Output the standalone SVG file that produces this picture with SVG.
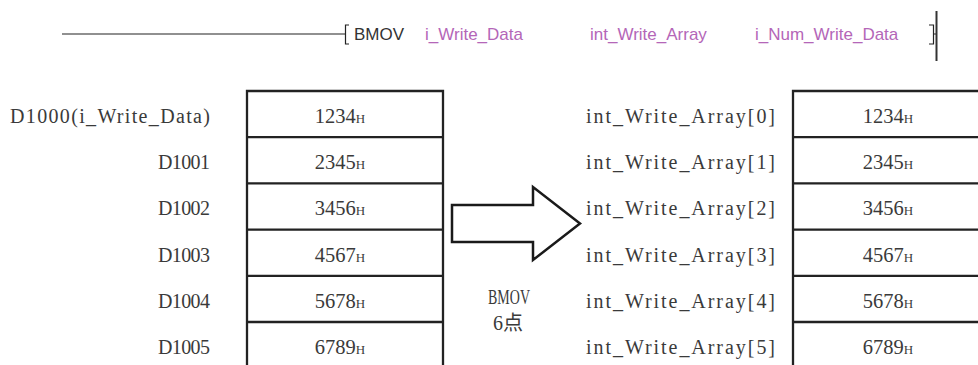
<svg xmlns="http://www.w3.org/2000/svg" width="978" height="365" viewBox="0 0 978 365">
<style>
.ladder{stroke:#222;stroke-width:1.2;fill:none}
.cmd{font-family:"Liberation Sans",Arial,sans-serif;font-size:17px;fill:#333}
.arg{font-family:"Liberation Sans",Arial,sans-serif;font-size:17px;fill:#b466b8}
.lbl{font-family:"Liberation Serif","Noto Sans CJK JP",serif;font-size:20px;fill:#3a3a3a}
.big{font-size:22px}
.val{font-family:"Liberation Serif",serif;font-size:20.5px;fill:#3a3a3a;text-anchor:middle}
.h{font-size:13px}
.cell{fill:none;stroke:#222;stroke-width:2.3}
.arrow{fill:#fff;stroke:#1a1a1a;stroke-width:2.5;stroke-linejoin:miter}
</style>
<rect width="978" height="365" fill="#fff"/>
<g id="ladder">
<line class="ladder" x1="62" y1="34" x2="345" y2="34"/>
<path class="ladder" d="M349,25 H345.5 V44 H349"/>
<text class="cmd" x="354" y="40">BMOV</text>
<text class="arg" x="425" y="40">i_Write_Data</text>
<text class="arg" x="590" y="40">int_Write_Array</text>
<text class="arg" x="755" y="40">i_Num_Write_Data</text>
<path class="ladder" d="M929,25 H933.5 V44 H929 M933.5,34 H936"/>
<line x1="936.5" y1="11" x2="936.5" y2="61" stroke="#333" stroke-width="2"/>
</g>
<g id="source-table">
<path class="cell" d="M247,365 V91 H443 V365 M247,137.2 H443 M247,183.4 H443 M247,229.6 H443 M247,275.8 H443 M247,322 H443"/>
<text class="val" x="340" y="123">1234<tspan class="h">H</tspan></text>
<text class="val" x="340" y="169.2">2345<tspan class="h">H</tspan></text>
<text class="val" x="340" y="215.4">3456<tspan class="h">H</tspan></text>
<text class="val" x="340" y="261.6">4567<tspan class="h">H</tspan></text>
<text class="val" x="340" y="307.8">5678<tspan class="h">H</tspan></text>
<text class="val" x="340" y="354">6789<tspan class="h">H</tspan></text>
</g>
<g id="source-labels" text-anchor="end">
<text class="lbl" x="210" y="123" textLength="200" lengthAdjust="spacing">D1000(i_Write_Data)</text>
<text class="lbl" x="210" y="169.2" textLength="52" lengthAdjust="spacing">D1001</text>
<text class="lbl" x="210" y="215.4" textLength="52" lengthAdjust="spacing">D1002</text>
<text class="lbl" x="210" y="261.6" textLength="52" lengthAdjust="spacing">D1003</text>
<text class="lbl" x="210" y="307.8" textLength="52" lengthAdjust="spacing">D1004</text>
<text class="lbl" x="210" y="354" textLength="52" lengthAdjust="spacing">D1005</text>
</g>
<g id="dest-table">
<path class="cell" d="M793,365 V91 H980 M793,137.2 H980 M793,183.4 H980 M793,229.6 H980 M793,275.8 H980 M793,322 H980"/>
<text class="val" x="888" y="123">1234<tspan class="h">H</tspan></text>
<text class="val" x="888" y="169.2">2345<tspan class="h">H</tspan></text>
<text class="val" x="888" y="215.4">3456<tspan class="h">H</tspan></text>
<text class="val" x="888" y="261.6">4567<tspan class="h">H</tspan></text>
<text class="val" x="888" y="307.8">5678<tspan class="h">H</tspan></text>
<text class="val" x="888" y="354">6789<tspan class="h">H</tspan></text>
</g>
<g id="dest-labels" text-anchor="end">
<text class="lbl" x="775" y="123" textLength="189" lengthAdjust="spacing">int_Write_Array[0]</text>
<text class="lbl" x="775" y="169.2" textLength="189" lengthAdjust="spacing">int_Write_Array[1]</text>
<text class="lbl" x="775" y="215.4" textLength="189" lengthAdjust="spacing">int_Write_Array[2]</text>
<text class="lbl" x="775" y="261.6" textLength="189" lengthAdjust="spacing">int_Write_Array[3]</text>
<text class="lbl" x="775" y="307.8" textLength="189" lengthAdjust="spacing">int_Write_Array[4]</text>
<text class="lbl" x="775" y="354" textLength="189" lengthAdjust="spacing">int_Write_Array[5]</text>
</g>
<g id="connectors">
<polygon class="arrow" points="452,205 533,205 533,187 580,223.5 533,260 533,242 452,242"/>
</g>
<g id="bmov-label">
<text class="lbl big" x="488" y="304" textLength="42" lengthAdjust="spacingAndGlyphs">BMOV</text>
<text class="lbl" x="493" y="330">6点</text>
</g>
</svg>
